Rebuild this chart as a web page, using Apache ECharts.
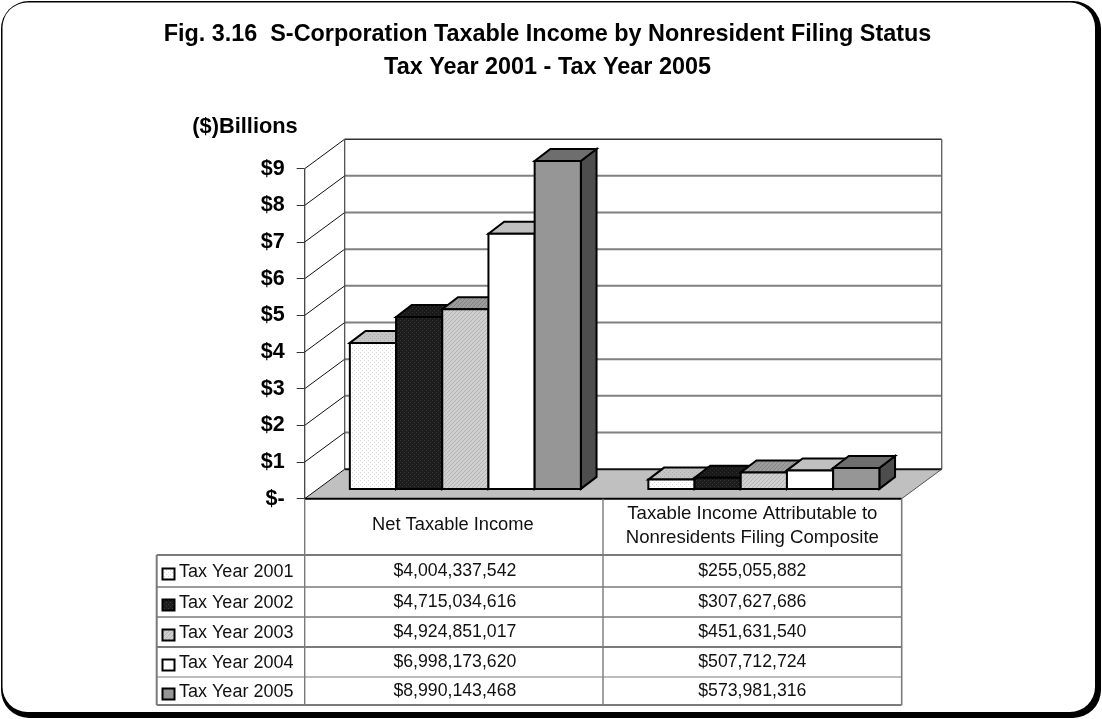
<!DOCTYPE html>
<html><head><meta charset="utf-8">
<style>html,body{margin:0;padding:0;background:#fff}#c{width:1102px;height:719px}</style>
<script src="https://cdn.jsdelivr.net/npm/echarts@6/dist/echarts.min.js"></script>
</head><body><div id="c"></div>
<script>
const categories = ['Net Taxable Income', 'Taxable Income Attributable to\nNonresidents Filing Composite'];
const years = ['Tax Year 2001','Tax Year 2002','Tax Year 2003','Tax Year 2004','Tax Year 2005'];
const netTaxableIncome = [4004337542,4715034616,4924851017,6998173620,8990143468];
const compositeIncome = [255055882,307627686,451631540,507712724,573981316];
const tickLabels = ['$-','$1','$2','$3','$4','$5','$6','$7','$8','$9'];
const titleLines = 'Fig. 3.16  S-Corporation Taxable Income by Nonresident Filing Status\nTax Year 2001 - Tax Year 2005';
const FONT = '"Liberation Sans", Arial, sans-serif';

function pat(bg, fg, kind){
  const c=document.createElement('canvas'); c.width=4; c.height=4;
  const g=c.getContext('2d'); g.fillStyle=bg; g.fillRect(0,0,4,4); g.fillStyle=fg;
  if(kind==='dot'){ g.fillRect(0,0,1,1); g.fillRect(2,2,1,1); }
  else { for(let i=0;i<4;i++) g.fillRect(i,3-i,1,1); }
  return {image:c,repeat:'repeat'};
}
const faces = [
 {front:pat('#ffffff','#d8d8d8','dot'), top:pat('#c4c4c4','#acacac','dot'), side:'#9a9a9a'},
 {front:pat('#1c1c1c','#3a3a3a','dot'), top:pat('#1a1a1a','#303030','dot'), side:'#111111'},
 {front:pat('#cfcfcf','#b4b4b4','diag'), top:pat('#9c9c9c','#848484','diag'), side:'#707070'},
 {front:'#ffffff', top:'#c0c0c0', side:'#808080'},
 {front:'#969696', top:'#6e6e6e', side:'#4d4d4d'}
];

const DX=40, DY=-29.5;            // depth of the chart box
const BAR_OFF=[12.8,-9.8], BAR_D=[15.7,-12], STEP=46.2, SHIFT=11.4, K=0.9945;

function poly(pts,style){ return {type:'polygon',shape:{points:pts},style}; }
function line(x1,y1,x2,y2,stroke,w){ return {type:'line',shape:{x1,y1,x2,y2},style:{stroke,lineWidth:w}}; }

function renderBox(params,api){
  const cs=params.coordSys, L=cs.x, R=cs.x+cs.width;
  const y0=api.coord([0,0])[1], y9=api.coord([0,9e9])[1];
  const kids=[
    poly([[L+DX,y9+DY],[R+DX,y9+DY],[R+DX,y0+DY],[L+DX,y0+DY]],{fill:'#fff'})
  ];
  for(let v=1;v<=8;v++){
    const y=api.coord([0,v*1e9])[1];
    kids.push(line(L+DX,y+DY,R+DX,y+DY,'#808080',2));
    kids.push(line(L,y,L+DX,y+DY,'#111',1));
  }
  kids.push(line(L,y9,L+DX,y9+DY,'#111',1));
  kids.push(line(L+DX,y9+DY,R+DX,y9+DY,'#333',1.6));
  kids.push(line(L+DX,y9+DY,L+DX,y0+DY,'#444',1.2));
  kids.push(line(R+DX,y9+DY,R+DX,y0+DY,'#666',1.4));
  kids.push(line(L,y9,L,y0,'#333',1.2));
  kids.push(poly([[L,y0],[L+DX,y0+DY],[R+DX,y0+DY],[R,y0]],{fill:'#c0c0c0'}));
  kids.push(line(L+DX,y0+DY,R+DX,y0+DY,'#111',2));
  kids.push(line(L,y0,L+DX,y0+DY,'#111',1));
  kids.push(line(R,y0,R+DX,y0+DY,'#555',1));
  kids.push(line(L,y0,R,y0,'#000',2));
  return {type:'group',children:kids};
}

function barRenderer(s){
  return function(params,api){
    const cat=api.value(0), val=api.value(1);
    const base=api.coord([cat,0]), top=api.coord([cat,val]);
    const x0=base[0]+SHIFT+(s-2.5)*STEP, x1=x0+STEP;
    const yb=base[1]+BAR_OFF[1], yt=yb-(base[1]-top[1])*K;
    const st={stroke:'#000',lineWidth:2,lineJoin:'miter'};
    const [dx,dy]=BAR_D;
    return {type:'group',children:[
      poly([[x1,yt],[x1+dx,yt+dy],[x1+dx,yb+dy],[x1,yb]],Object.assign({fill:faces[s].side},st)),
      poly([[x0,yt],[x0+dx,yt+dy],[x1+dx,yt+dy],[x1,yt]],Object.assign({fill:faces[s].top},st)),
      poly([[x0,yt],[x1,yt],[x1,yb],[x0,yb]],Object.assign({fill:faces[s].front},st))
    ]};
  };
}

const money=v=>'$'+v.toLocaleString('en-US');
const T={left:156.7,col0:304.7,col1:603,right:901.7,head:498.7,rows:[555,587,617,647,677,705]};
const tableEls=[];
function tl(x1,y1,x2,y2,w){ tableEls.push({type:'line',shape:{x1,y1,x2,y2},style:{stroke:'#7a7a7a',lineWidth:w},z:5}); }
T.rows.forEach((y,i)=>tl(T.left,y,T.right,y,[2,1.6,1.4,1.8,1.2,2][i]));
tl(T.left,T.rows[0],T.left,T.rows[5],2);
tl(T.col0,T.head,T.col0,T.rows[5],1.4);
tl(T.col1,T.head,T.col1,T.rows[5],1.4);
tl(T.right,T.head,T.right,T.rows[5],1.6);
function tt(text,x,y,align,size){ tableEls.push({type:'text',x,y,z:6,style:{text,fill:'#111',font:(size||17.7)+'px '+FONT,textAlign:align||'center',textVerticalAlign:'middle',lineHeight:24}}); }
tt(categories[0],(T.col0+T.col1)/2-1,525,'center',18.3);
tt(categories[1],(T.col1+T.right)/2,525.5,'center',18.6);
years.forEach((y,i)=>{
  const cy=(T.rows[i]+T.rows[i+1])/2;
  tt(y,179,cy+1,'left',18);
  tt(money(netTaxableIncome[i]),(T.col0+T.col1)/2+1,cy);
  tt(money(compositeIncome[i]),(T.col1+T.right)/2,cy);
  tableEls.push({type:'rect',shape:{x:162.5,y:cy-2.5,width:12,height:11},z:6,style:{fill:faces[i].front,stroke:'#000',lineWidth:2}});
});

const chart=echarts.init(document.getElementById('c'),null,{renderer:'canvas'});
chart.setOption({
  animation:false,
  backgroundColor:'#fff',
  title:{text:titleLines,left:542.5,top:13,textAlign:'center',textStyle:{fontFamily:FONT,fontWeight:'bold',fontSize:23.4,lineHeight:33,color:'#000'}},
  grid:{left:304.7,top:168.7,width:597,height:330,containLabel:false},
  xAxis:{type:'category',data:categories,axisLabel:{show:false},axisTick:{show:false},axisLine:{show:false},splitLine:{show:false}},
  yAxis:{type:'value',min:0,max:9e9,interval:1e9,
    name:'($)Billions',nameLocation:'end',nameGap:31,nameTextStyle:{fontFamily:FONT,fontWeight:'bold',fontSize:21.8,color:'#000',align:'right',padding:[0,7,0,0]},
    axisLine:{show:false},splitLine:{show:false},
    axisTick:{show:true,length:8,lineStyle:{color:'#333',width:1}},
    axisLabel:{margin:20,fontFamily:FONT,fontWeight:'bold',fontSize:21.5,color:'#000',formatter:v=>tickLabels[Math.round(v/1e9)]}},
  graphic:{elements:[
    {type:'rect',z:-10,silent:true,shape:{x:1,y:1,width:1100,height:717,r:28},style:{fill:'#000'}},
    {type:'rect',z:-9,silent:true,shape:{x:2.5,y:2.5,width:1092.5,height:709.5,r:25},style:{fill:'#fff'}},
    ...tableEls
  ]},
  series:[
    {type:'custom',name:'box',z:1,silent:true,data:[[0,0]],renderItem:renderBox,encode:{x:0,y:1}},
    ...years.map((y,s)=>({type:'custom',name:y,z:2+s,silent:true,
      data:[[0,netTaxableIncome[s]],[1,compositeIncome[s]]],renderItem:barRenderer(s),encode:{x:0,y:1}}))
  ]
});
</script></body></html>
